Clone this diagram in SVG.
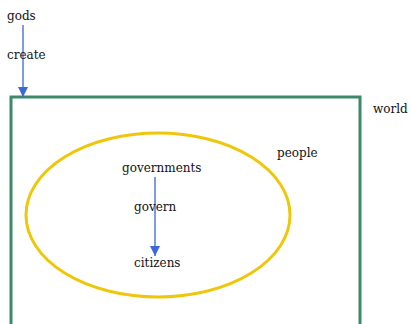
<svg xmlns="http://www.w3.org/2000/svg" width="412" height="324" viewBox="0 0 412 324">
<style>
.t{font-family:'DejaVu Serif','Liberation Serif',serif;font-size:12px;fill:#111}
.edge{stroke:#3a68d8;stroke-width:1.3;fill:none}
</style>
<defs>
<marker id="ah" markerWidth="10" markerHeight="10" refX="10" refY="5" orient="auto" markerUnits="userSpaceOnUse" viewBox="0 0 10 10">
<path d="M0,0 L10,5 L0,10 Z" fill="#3a68d8"/>
</marker>
</defs>
<rect width="412" height="324" fill="#fff"/>
<g id="world">
<rect x="11" y="97" width="349" height="240" fill="none" stroke="#3d8a68" stroke-width="3"/>
<text class="t" x="373" y="113">world</text>
</g>
<g id="people">
<ellipse cx="158" cy="215" rx="132" ry="82" fill="none" stroke="#efc70a" stroke-width="3"/>
<text class="t" x="277" y="157">people</text>
</g>
<g id="gods"><text class="t" x="7" y="20">gods</text></g>
<g id="governments"><text class="t" x="122" y="172">governments</text></g>
<g id="citizens"><text class="t" x="134" y="267">citizens</text></g>
<g id="connectors">
<line class="edge" x1="23" y1="25" x2="23" y2="97" marker-end="url(#ah)"/>
<text class="t" x="7" y="59">create</text>
<line class="edge" x1="155" y1="177" x2="155" y2="256" marker-end="url(#ah)"/>
<text class="t" x="134" y="211">govern</text>
</g>
</svg>
